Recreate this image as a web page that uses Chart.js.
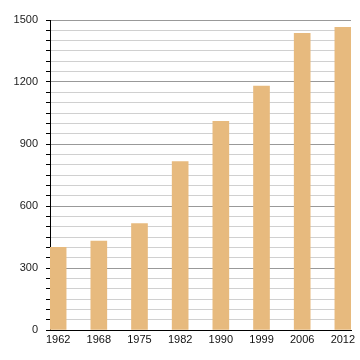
<!DOCTYPE html>
<html>
<head>
<meta charset="utf-8">
<script src="https://cdn.jsdelivr.net/npm/chart.js@4/dist/chart.umd.min.js"></script>
<style>
  html, body { margin: 0; padding: 0; background: #fff; }
  #wrap { width: 360px; height: 360px; }
</style>
</head>
<body>
<div id="wrap"><canvas id="chart" width="360" height="360"></canvas></div>
<script>
// data
const years = ["1962", "1968", "1975", "1982", "1990", "1999", "2006", "2012"];
const values = [400, 430, 515, 815, 1010, 1180, 1435, 1465];
const yTickLabels = [0, 300, 600, 900, 1200, 1500];

const FONT = { family: "'Liberation Sans', Arial, sans-serif", size: 11 };

new Chart(document.getElementById("chart"), {
  type: "bar",
  data: {
    datasets: [
      {
        data: values.map((v, i) => ({ x: i, y: v })),
        backgroundColor: "#e7ba7e",
        borderWidth: 0,
        barThickness: 16,
      },
    ],
  },
  options: {
    responsive: false,
    animation: false,
    layout: { padding: { top: 20, right: 9, bottom: 0, left: 0 } },
    plugins: { legend: { display: false }, tooltip: { enabled: false } },
    scales: {
      x: {
        type: "linear",
        offset: false,
        min: -0.2,
        max: 7.2,
        afterBuildTicks: (scale) => {
          scale.ticks = years.map((_, i) => ({ value: i }));
        },
        afterFit: (scale) => {
          scale.height = 30;
        },
        ticks: {
          color: "#111",
          font: FONT,
          padding: 3,
          maxRotation: 0,
          autoSkip: false,
          callback: (v) => years[v] ?? "",
        },
        grid: { display: false, drawTicks: false },
        border: { color: "#000", width: 1 },
      },
      y: {
        min: 0,
        max: 1500,
        afterFit: (scale) => {
          scale.width = 50;
        },
        ticks: {
          stepSize: 50,
          autoSkip: false,
          color: "#222",
          font: FONT,
          padding: 8,
          callback: (v) => (yTickLabels.includes(v) ? v : ""),
        },
        grid: {
          color: (ctx) => (ctx.tick && ctx.tick.value % 300 === 0 ? "#999" : "#d0d0d0"),
          tickColor: "#000",
          tickLength: 4,
        },
        border: { color: "#000", width: 1 },
      },
    },
  },
});
</script>
</body>
</html>
